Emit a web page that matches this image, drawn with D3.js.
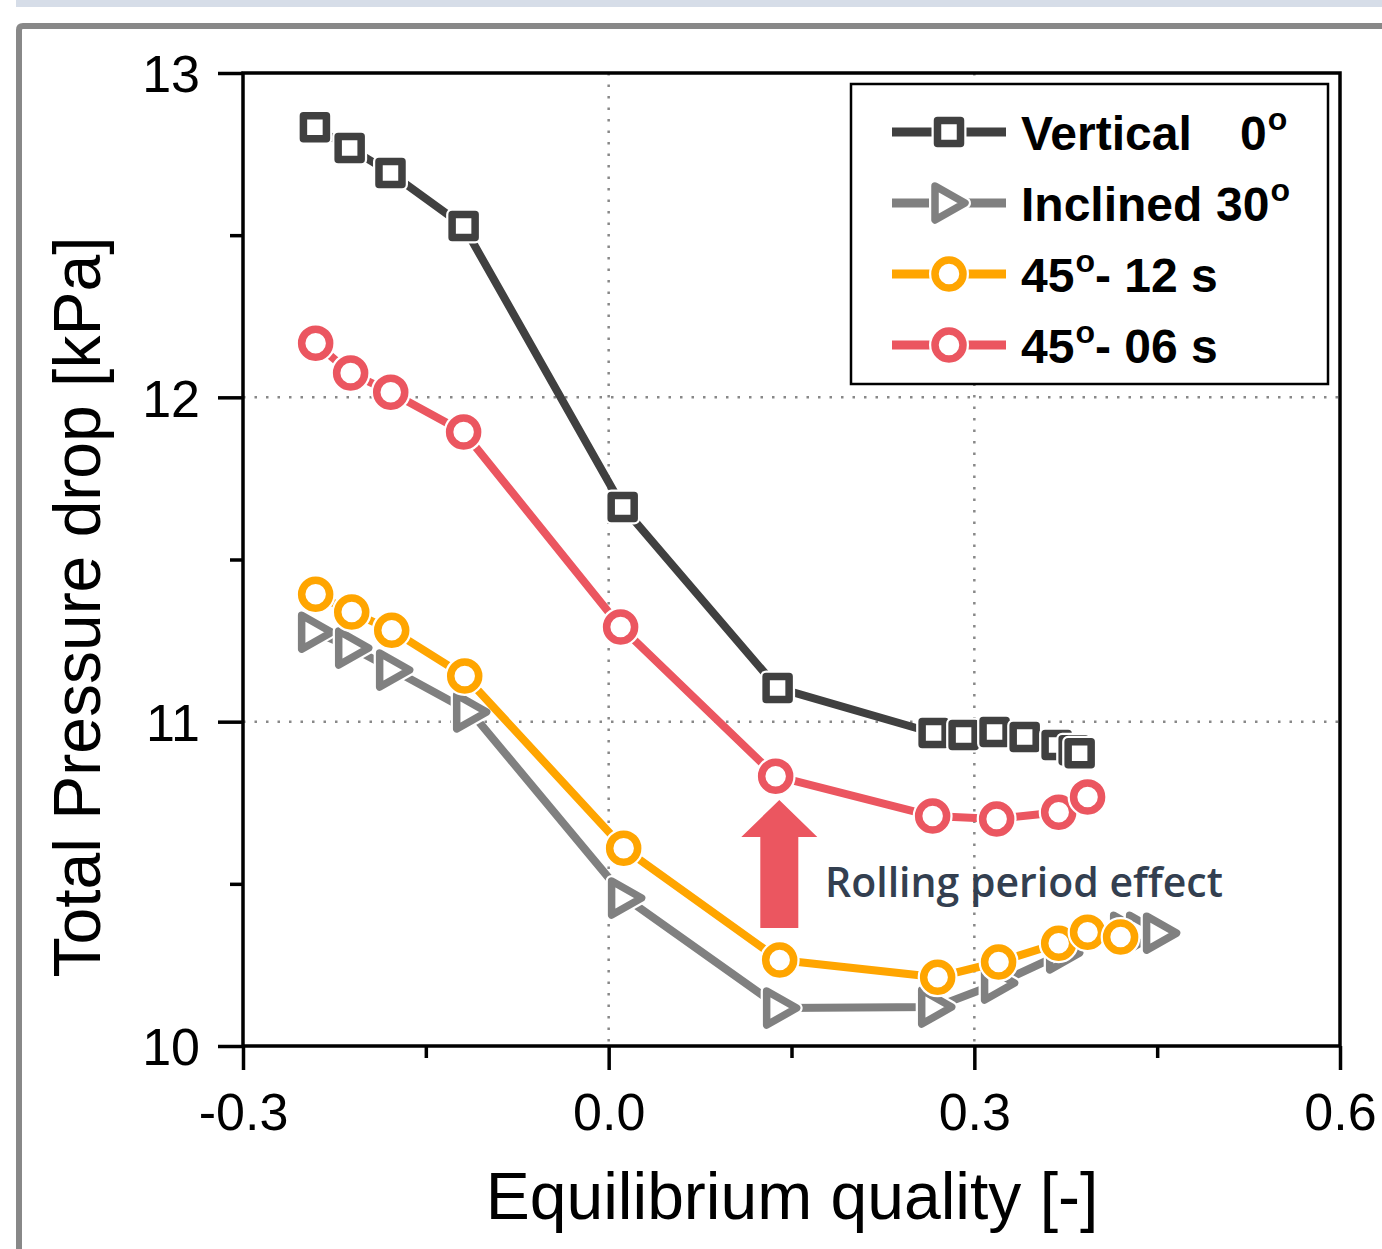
<!DOCTYPE html>
<meta charset="utf-8">
<script src="https://cdn.jsdelivr.net/npm/d3@7"></script>
<style>
  body { margin: 0; background: #fff; }
  text { font-family: "Liberation Sans", Arial, sans-serif; }
</style>
<body>
<div id="chart"></div>
<script>
  // values
  var vertX = [-0.241, -0.2125, -0.179, -0.119, 0.0115, 0.1386, 0.2666, 0.2912, 0.3166, 0.3413, 0.3675, 0.3815, 0.3864];
  var vertY = [12.833, 12.769, 12.692, 12.528, 11.662, 11.104, 10.965, 10.959, 10.968, 10.953, 10.928, 10.912, 10.903];

  var inclX = [-0.2404, -0.21, -0.1764, -0.1132, 0.0139, 0.1411, 0.2683, 0.3199, 0.3733, 0.4258, 0.4389, 0.4528];
  var inclY = [11.276, 11.227, 11.159, 11.03, 10.456, 10.117, 10.12, 10.194, 10.287, 10.351, 10.351, 10.348];

  var p12X = [-0.2404, -0.2108, -0.178, -0.1181, 0.0123, 0.1403, 0.2699, 0.3199, 0.3692, 0.3929, 0.42];
  var p12Y = [11.393, 11.338, 11.282, 11.141, 10.61, 10.265, 10.212, 10.259, 10.317, 10.351, 10.336];

  var p06X = [-0.2404, -0.2117, -0.1788, -0.119, 0.0098, 0.137, 0.2658, 0.3183, 0.3692, 0.3929];
  var p06Y = [12.167, 12.075, 12.016, 11.893, 11.292, 10.832, 10.709, 10.7, 10.721, 10.768];

  var xTicks = [-0.3, 0.0, 0.3, 0.6];
  var xMinor = [-0.15, 0.15, 0.45];
  var yTicks = [10, 11, 12, 13];
  var yMinor = [10.5, 11.5, 12.5];

  var series = [
    {name: "Vertical", deg: "0", rest: "", xs: vertX, ys: vertY, color: "#404040", shape: "square"},
    {name: "Inclined", deg: "30", rest: "", xs: inclX, ys: inclY, color: "#808080", shape: "triangle"},
    {name: "", deg: "45", rest: "- 12 s", xs: p12X, ys: p12Y, color: "#ffa500", shape: "circle"},
    {name: "", deg: "45", rest: "- 06 s", xs: p06X, ys: p06Y, color: "#eb5660", shape: "circle"}
  ];

  var W = 1382, H = 1249;
  var margin = {left: 243, top: 73, right: 42, bottom: 203};

  var svg = d3.select("#chart").append("svg")
      .attr("width", W).attr("height", H);

  // page decoration: top strip and grey frame
  svg.append("rect").attr("x", 16).attr("y", 0).attr("width", W - 16).attr("height", 7)
    .style("fill", "#d6dde8");
  svg.append("path")
    .attr("d", "M19," + H + " V30 Q19,26 23,26 H" + (W + 5))
    .style("fill", "none").style("stroke", "#888").style("stroke-width", 6);

  var x = d3.scaleLinear().domain([-0.3, 0.6]).range([margin.left, W - margin.right]);
  var y = d3.scaleLinear().domain([10, 13]).range([H - margin.bottom, margin.top]);

  // dotted grid
  var g = svg.append("g");
  g.selectAll(".gx").data([0.0, 0.3]).enter().append("line")
    .attr("x1", function(d) { return x(d); }).attr("x2", function(d) { return x(d); })
    .attr("y1", y(13)).attr("y2", y(10))
    .style("stroke", "#888").style("stroke-width", 2.5).style("stroke-dasharray", "2.5,9");
  g.selectAll(".gy").data([11, 12]).enter().append("line")
    .attr("y1", function(d) { return y(d); }).attr("y2", function(d) { return y(d); })
    .attr("x1", x(-0.3)).attr("x2", x(0.6))
    .style("stroke", "#888").style("stroke-width", 2.5).style("stroke-dasharray", "2.5,9");

  var fmtX = function(d) { return d3.format(".1f")(d).replace("\u2212", "-"); };

  // axes
  var xAxis = svg.append("g").attr("transform", "translate(0," + y(10) + ")")
    .call(d3.axisBottom(x).tickValues(xTicks).tickSize(24).tickSizeOuter(0).tickFormat(fmtX));
  xAxis.selectAll("text").attr("dy", 0).attr("y", 84).style("font-size", "52px");
  svg.append("g").attr("transform", "translate(0," + y(10) + ")")
    .call(d3.axisBottom(x).tickValues(xMinor).tickSize(12).tickFormat(""))
    .select(".domain").remove();

  var yAxis = svg.append("g").attr("transform", "translate(" + x(-0.3) + ",0)")
    .call(d3.axisLeft(y).tickValues(yTicks).tickSize(25).tickSizeOuter(0)
      .tickFormat(d3.format("d")));
  yAxis.selectAll("text").attr("x", -43).attr("dy", "0.36em").style("font-size", "52px");
  svg.append("g").attr("transform", "translate(" + x(-0.3) + ",0)")
    .call(d3.axisLeft(y).tickValues(yMinor).tickSize(13).tickFormat(""))
    .select(".domain").remove();

  svg.selectAll(".tick line").style("stroke", "#000").style("stroke-width", 3.5);
  svg.selectAll(".domain").style("stroke", "none");
  svg.selectAll(".tick text").style("fill", "#000").style("font-family", "'Liberation Sans', Arial, sans-serif");

  // plot frame
  svg.append("rect")
    .attr("x", x(-0.3)).attr("y", y(13))
    .attr("width", x(0.6) - x(-0.3)).attr("height", y(10) - y(13))
    .style("fill", "none").style("stroke", "#000").style("stroke-width", 3.5);

  // axis titles
  svg.append("text").attr("x", 792).attr("y", 1219).attr("text-anchor", "middle")
    .style("font-size", "66px").text("Equilibrium quality [-]");
  svg.append("text").attr("transform", "translate(100,607) rotate(-90)")
    .attr("text-anchor", "middle").style("font-size", "66px")
    .text("Total Pressure drop [kPa]");

  function markerPath(shape) {
    if (shape === "square") return "M-11.5,-11.5H11.5V11.5H-11.5Z";
    if (shape === "triangle") return "M-14,-17L16,0L-14,17Z";
    return d3.arc()({innerRadius: 0, outerRadius: 14, startAngle: 0, endAngle: 2 * Math.PI});
  }

  // rolling period arrow + label
  var arrowX = 0.14;
  var ax = x(arrowX);
  svg.append("path")
    .attr("d", "M" + ax + ",800 L" + (ax + 38) + ",837 L" + (ax + 19) + ",837 L" + (ax + 19) + ",928 L" +
      (ax - 19) + ",928 L" + (ax - 19) + ",837 L" + (ax - 38) + ",837 Z")
    .style("fill", "#eb5660");

  var line = d3.line().x(function(d) { return x(d[0]); }).y(function(d) { return y(d[1]); });

  series.forEach(function(s) {
    var pts = s.xs.map(function(v, i) { return [v, s.ys[i]]; });
    svg.append("path").datum(pts).attr("d", line)
      .style("fill", "none").style("stroke", s.color).style("stroke-width", 8)
      .style("stroke-linejoin", "round");
    var m = svg.append("g").selectAll("g").data(pts).enter().append("g")
      .attr("transform", function(d) { return "translate(" + x(d[0]) + "," + y(d[1]) + ")"; });
    m.append("path").attr("d", markerPath(s.shape))
      .style("fill", "#fff").style("stroke", "#fff").style("stroke-width", 12)
      .style("stroke-linejoin", "round");
    m.append("path").attr("d", markerPath(s.shape))
      .style("fill", "#fff").style("stroke", s.color).style("stroke-width", 7.5)
      .style("stroke-linejoin", "round");
  });

  svg.append("text").attr("x", 825).attr("y", 897)
    .style("font-family", "'Open Sans', 'Noto Sans', sans-serif")
    .style("font-weight", "600").style("font-size", "41px").style("fill", "#333f50")
    .text("Rolling period effect");

  // legend
  var leg = svg.append("g");
  leg.append("rect").attr("x", 851).attr("y", 84).attr("width", 477).attr("height", 300)
    .style("fill", "#fff").style("stroke", "#000").style("stroke-width", 2.5);
  var rows = [132, 203, 274, 345];
  series.forEach(function(s, i) {
    var r = leg.append("g").attr("transform", "translate(0," + rows[i] + ")");
    r.append("line").attr("x1", 892).attr("x2", 1006)
      .style("stroke", s.color).style("stroke-width", 9);
    r.append("path").attr("transform", "translate(949,0)").attr("d", markerPath(s.shape))
      .style("fill", "#fff").style("stroke", "#fff").style("stroke-width", 12).style("stroke-linejoin", "round");
    r.append("path").attr("transform", "translate(949,0)").attr("d", markerPath(s.shape))
      .style("fill", "#fff").style("stroke", s.color).style("stroke-width", 7.5).style("stroke-linejoin", "round");
    var t = r.append("text").attr("x", 1021).attr("y", 18)
      .style("font-size", "48px").style("font-weight", "bold");
    if (s.name) {
      t.append("tspan").text(s.name);
      t.append("tspan").attr("x", i === 0 ? 1240 : 1216).text(s.deg);
    } else {
      t.append("tspan").text(s.deg);
    }
    t.append("tspan").attr("dx", 1).attr("dy", -20).style("font-size", "32px").text("o");
    if (s.rest) t.append("tspan").attr("dy", 20).text(s.rest);
  });
</script>
</body>
